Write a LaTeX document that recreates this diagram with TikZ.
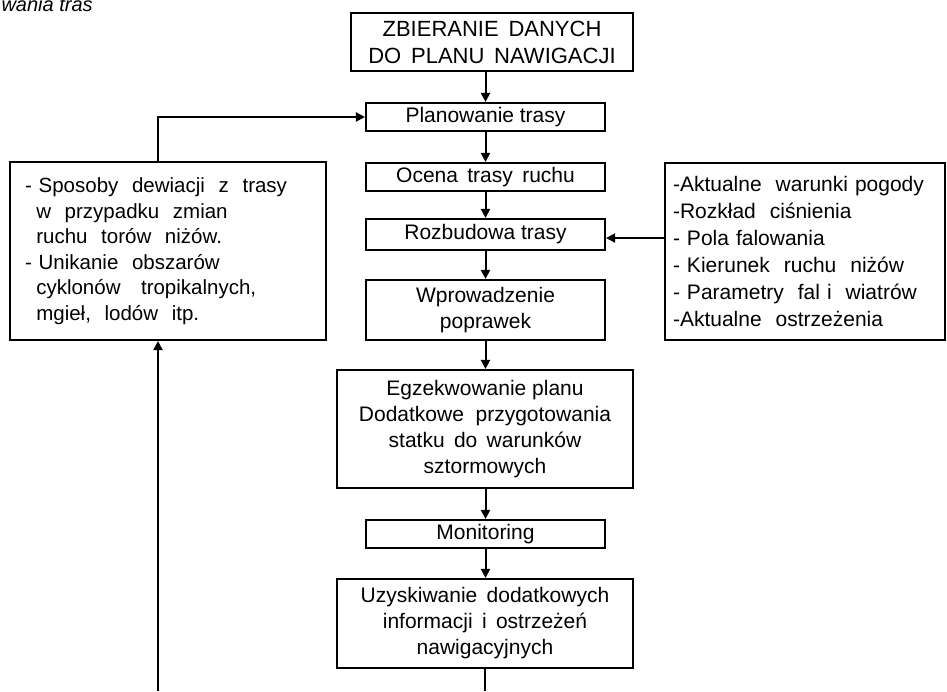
\documentclass[tikz,border=0pt]{standalone}
\usepackage{fontspec}
\setmainfont{Liberation Sans}
\usetikzlibrary{arrows.meta}
\begin{document}
\begin{tikzpicture}[x=1pt,y=-1pt,
  box/.style={draw, line width=2.1pt, inner sep=0pt, align=center, font=\fontsize{21}{26}\selectfont},
  narrow/.style={minimum width=239pt},
  wide/.style={minimum width=296pt},
  arr/.style={line width=2pt, -{Triangle[length=9pt,width=9pt]}},
  ln/.style={line width=2pt}]
\useasboundingbox (0,0) rectangle (947,691);
\node[anchor=base west, font=\fontsize{20}{24}\selectfont\itshape] (cap) at (-2,11) {wania tras};
\node[box, minimum width=282pt, minimum height=58pt, font=\fontsize{22}{27}\selectfont] (top) at (492,42) {ZBIERANIE \,DANYCH\\DO \,PLANU \,NAWIGACJI};
\node[box, narrow, minimum height=28pt] (plan) at (485.5,117) {Planowanie trasy};
\node[box, narrow, minimum height=28pt] (ocena) at (485.5,177) {Ocena \,trasy \,ruchu};
\node[box, narrow, minimum height=31pt] (rozb) at (485.5,234.5) {Rozbudowa trasy};
\node[box, narrow, minimum height=60pt] (wpro) at (485.5,310) {Wprowadzenie\\poprawek};
\node[box, wide, minimum height=118pt] (egz) at (485,429) {Egzekwowanie planu\\Dodatkowe \ przygotowania\\statku \,do \,warunków\\sztormowych};
\node[box, narrow, minimum height=28pt] (mon) at (485.5,534) {Monitoring};
\node[box, wide, minimum height=89pt] (uzy) at (485,623.5) {Uzyskiwanie \,dodatkowych\\informacji \,i \,ostrzeżeń\\nawigacyjnych};
\node[box, align=left, text width=286pt, inner xsep=15pt, minimum height=178pt, font=\fontsize{20.5}{25.5}\selectfont] (left) at (168,251)
  {- Sposoby \ dewiacji \ z \ trasy\\
   \hspace*{0.55em}w \ przypadku \ zmian\\
   \hspace*{0.55em}ruchu \ torów \ niżów.\\
   - Unikanie \ obszarów\\
   \hspace*{0.55em}cyklonów \ \ tropikalnych,\\
   \hspace*{0.55em}mgieł, \ lodów \ itp.};
\node[box, align=left, text width=264pt, inner xsep=8pt, minimum height=177pt, font=\fontsize{21}{27}\selectfont] (right) at (805,251.5)
  {-Aktualne \ warunki pogody\\
   -Rozkład \ ciśnienia\\
   - Pola falowania\\
   - Kierunek \ ruchu \ niżów\\
   - Parametry \ fal i \ wiatrów\\
   -Aktualne \ ostrzeżenia};
\coordinate (lt) at (158,117);
\coordinate (bl) at (158,691);
\coordinate (bc) at (485,691);
\coordinate (ra) at (665,238);
\draw[arr] (top.south -| plan.north) -- (plan.north);
\draw[arr] (plan.south) -- (ocena.north);
\draw[arr] (ocena.south) -- (rozb.north);
\draw[arr] (rozb.south) -- (wpro.north);
\draw[arr] (wpro.south) -- (egz.north -| wpro.south);
\draw[arr] (egz.south -| mon.north) -- (mon.north);
\draw[arr] (mon.south) -- (uzy.north -| mon.south);
\draw[ln] (uzy.south) -- (bc);
\draw[arr] (bl) -- (bl |- left.south);
\draw[arr] (left.north -| lt) -- (lt) -- (plan.west);
\draw[arr] (ra) -- (ra -| rozb.east);
\end{tikzpicture}
\end{document}
